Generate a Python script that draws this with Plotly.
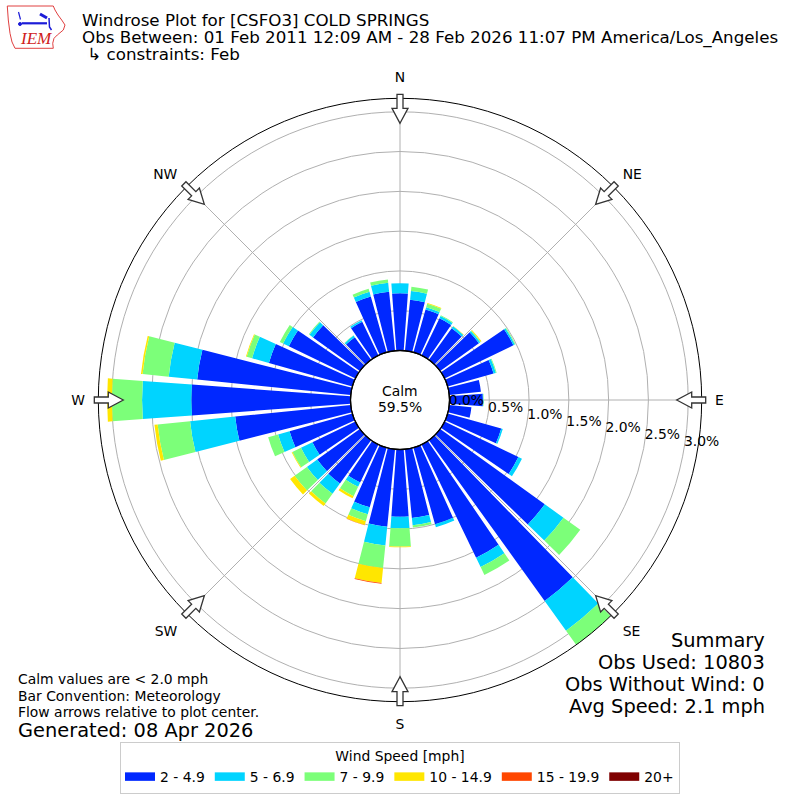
import numpy as np
import plotly.graph_objects as go

# wind directions (deg, meteorological) and % frequency per speed bin
directions = list(range(0, 360, 10))

spd_2_5 = [0.72, 0.645, 0.56, 0.52, 0.49, 0.60, 0.96, 0.60, 0.40, 0.42, 0.28, 0.70,
           1.03, 1.62, 2.49, 1.58, 1.00, 0.87, 0.845, 0.98, 0.78, 0.53, 0.67, 0.66,
           0.60, 0.82, 1.46, 2.00, 1.94, 1.09, 0.93, 0.725, 0.35, 0.47, 0.73, 0.745]
spd_5_7 = [0.125, 0.11, 0.03, 0.03, 0.03, 0.02, 0.02, 0.03, 0.0, 0.005, 0.0, 0.02,
           0.05, 0.29, 0.46, 0.13, 0.04, 0.09, 0.145, 0.235, 0.09, 0.06, 0.16, 0.16,
           0.16, 0.15, 0.57, 0.62, 0.36, 0.22, 0.08, 0.055, 0.025, 0.02, 0.06, 0.115]
spd_7_10 = [0.0, 0.055, 0.045, 0.01, 0.0, 0.01, 0.01, 0.01, 0.0, 0.005, 0.0, 0.0,
            0.0, 0.26, 0.24, 0.11, 0.0, 0.03, 0.23, 0.285, 0.09, 0.13, 0.15, 0.19,
            0.12, 0.13, 0.41, 0.38, 0.33, 0.07, 0.045, 0.01, 0.005, 0.0, 0.04, 0.04]
spd_10_15 = [0.0, 0.0, 0.01, 0.0, 0.005, 0.01, 0.0, 0.0, 0.0, 0.0, 0.0, 0.0,
             0.0, 0.0, 0.0, 0.0, 0.0, 0.0, 0.01, 0.19, 0.05, 0.03, 0.04, 0.07,
             0.01, 0.0, 0.04, 0.06, 0.02, 0.01, 0.0, 0.0, 0.0, 0.0, 0.0, 0.0]
spd_15_20 = [0.0] * 19 + [0.01, 0.005] + [0.0] * 15
spd_20p = [0.0] * 36

speed_labels = ["2 - 4.9", "5 - 6.9", "7 - 9.9", "10 - 14.9", "15 - 19.9", "20+"]
speed_colors = ["#0028ff", "#00d4ff", "#7cff79", "#ffe600", "#ff4700", "#7f0000"]
speed_series = [spd_2_5, spd_5_7, spd_7_10, spd_10_15, spd_15_20, spd_20p]

compass_vals = [0, 45, 90, 135, 180, 225, 270, 315]
compass_text = ["N", "NE", "E", "SE", "S", "SW", "W", "NW"]
ring_vals = [0.0, 0.5, 1.0, 1.5, 2.0, 2.5, 3.0]

calm_pct = 59.5
FONT = "DejaVu Sans"

# pixel geometry of the rose
CX, CY = 400, 400
R_OUT = 301.7
R_HOLE = 49.5


def px(x, y):
    return x / 800, 1 - y / 800


def poly_path(points, close=True):
    s = "M " + " L ".join(f"{px(*p)[0]:.5f},{px(*p)[1]:.5f}" for p in points)
    return s + (" Z" if close else "")


fig = go.Figure()

for lab, col, vals in zip(speed_labels, speed_colors, speed_series):
    fig.add_trace(go.Barpolar(
        r=vals, theta=directions, width=8.5,
        marker=dict(color=col, line=dict(width=0)),
        name=lab, legendgroup=lab, showlegend=False,
        hovertemplate="%{theta}°: %{r:.2f}%<extra>" + lab + "</extra>"))
    # wide swatch for the legend
    fig.add_trace(go.Scatterpolar(
        r=[None], theta=[None], mode="lines", line=dict(color=col, width=8.5),
        name=lab, legendgroup=lab, hoverinfo="skip"))

# radial % labels
fig.add_trace(go.Scatterpolar(
    r=ring_vals, theta=[99.9] * len(ring_vals), mode="text",
    text=[f"{v:.1f}%" for v in ring_vals], textposition="top right",
    textfont=dict(family=FONT, size=13.9, color="black"),
    cliponaxis=False, showlegend=False, hoverinfo="skip"))

d0 = (CX - R_OUT) / 800
d1 = (CX + R_OUT) / 800

fig.update_layout(
    width=800, height=800,
    margin=dict(l=0, r=0, t=0, b=0),
    paper_bgcolor="white",
    font=dict(family=FONT, size=13.9, color="black"),
    polar=dict(
        domain=dict(x=[d0, d1], y=[d0, d1]),
        hole=R_HOLE / R_OUT,
        bgcolor="white",
        barmode="stack",
        radialaxis=dict(range=[0, 3.17], tickvals=ring_vals[1:], showticklabels=False,
                        ticks="", showline=False, gridcolor="#b0b0b0", gridwidth=1),
        angularaxis=dict(rotation=90, direction="clockwise", tickvals=compass_vals,
                         ticktext=compass_text, ticks="outside", ticklen=10,
                         tickcolor="rgba(0,0,0,0)", showline=True, linecolor="black",
                         linewidth=1, gridcolor="#b0b0b0", gridwidth=1,
                         tickfont=dict(family=FONT, size=13.9)),
    ),
    legend=dict(orientation="h", x=0.5, xanchor="center", y=1 - 742 / 800, yanchor="top",
                bordercolor="#cccccc", borderwidth=1, bgcolor="white",
                font=dict(family=FONT, size=13.9),
                title=dict(text="Wind Speed [mph]", side="top center",
                           font=dict(family=FONT, size=13.9))),
)

# calm circle
fig.add_shape(type="circle", xref="paper", yref="paper",
              x0=(CX - R_HOLE) / 800, x1=(CX + R_HOLE) / 800,
              y0=1 - (CY + R_HOLE) / 800, y1=1 - (CY - R_HOLE) / 800,
              line=dict(color="black", width=1.3), layer="above")

# flow arrows at the compass points
arrow_local = [(276.7, 0), (291.7, 8), (291.7, 3), (305.7, 3),
               (305.7, -3), (291.7, -3), (291.7, -8)]
for ang in compass_vals:
    a = np.radians(ang)
    u = np.array([np.sin(a), -np.cos(a)])
    v = np.array([np.cos(a), np.sin(a)])
    pts = [np.array([CX, CY]) + u * p + v * q for p, q in arrow_local]
    fig.add_shape(type="path", path=poly_path(pts), xref="paper", yref="paper",
                  fillcolor="white", line=dict(color="#333333", width=1.3), layer="above")

# simplified IEM logo (state outline + station symbol)
outline = [(7.3, 6), (53.3, 6), (55, 10), (58, 15), (61.7, 20), (65, 25), (63.3, 30),
           (57.3, 35), (54, 38.3), (52.7, 43.3), (53.3, 48.3), (15, 48.3), (12, 42),
           (10, 33.3), (8.3, 20)]
fig.add_shape(type="path", path=poly_path(outline), xref="paper", yref="paper",
              line=dict(color="#e04040", width=1), fillcolor="white")
blue = "#1c1cd8"
for seg, w in [([(21.7, 23.3), (47, 23.3)], 2.2),
               ([(18.5, 12), (20.5, 19.5)], 1.2),
               ([(40, 14), (47, 18)], 3),
               ([(49, 18), (49.5, 27), (51.5, 30)], 1.5)]:
    fig.add_shape(type="path", path=poly_path(seg, close=False), xref="paper", yref="paper",
                  line=dict(color=blue, width=w))
fig.add_shape(type="circle", xref="paper", yref="paper",
              x0=px(18.5, 0)[0], x1=px(21.5, 0)[0], y0=px(0, 25.5)[1], y1=px(0, 22.5)[1],
              line=dict(color=blue, width=1), fillcolor=blue)


def note(x, y, text, size=13.9, anchor="left", color="black", family=FONT):
    xx, yy = px(x, y)
    fig.add_annotation(x=xx, y=yy, xref="paper", yref="paper", text=text, showarrow=False,
                       xanchor=anchor, yanchor="middle",
                       font=dict(family=family, size=size, color=color))


note(35.5, 39, "<i>IEM</i>", size=17, anchor="center", color="#d02020",
     family="Liberation Serif")

note(80, 19.5, "Windrose Plot for [CSFO3] COLD SPRINGS", size=16.7)
note(80, 37, "Obs Between: 01 Feb 2011 12:09 AM - 28 Feb 2026 11:07 PM America/Los_Angeles",
     size=16.7)
note(80, 54.5, " ↳ constraints: Feb", size=16.7)

note(400, 391, "Calm", anchor="center")
note(400, 407, f"{calm_pct:.1f}%", anchor="center")

note(16, 679, "Calm values are < 2.0 mph")
note(16, 696, "Bar Convention: Meteorology")
note(16, 712, "Flow arrows relative to plot center.")
note(16, 730, "Generated: 08 Apr 2026", size=19.4)

note(767, 640, "Summary", size=19.4, anchor="right")
note(767, 662, "Obs Used: 10803", size=19.4, anchor="right")
note(767, 684, "Obs Without Wind: 0", size=19.4, anchor="right")
note(767, 706, "Avg Speed: 2.1 mph", size=19.4, anchor="right")

fig.write_html("out.html", config={"displayModeBar": False},
               post_script="document.body.style.margin='0';")
